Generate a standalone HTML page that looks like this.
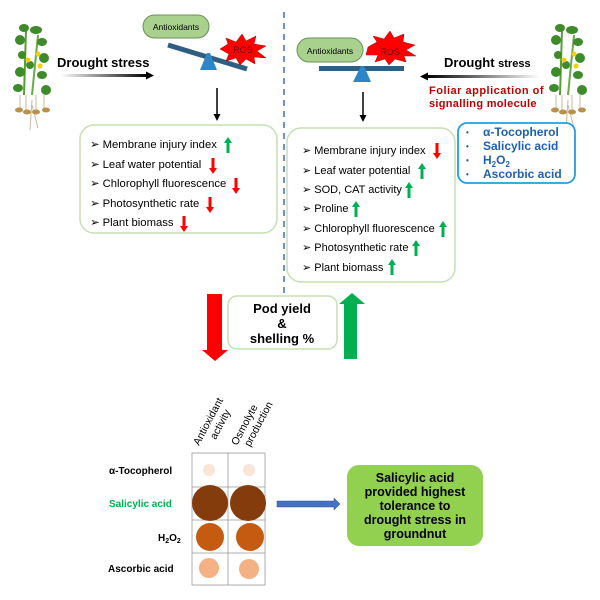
<!DOCTYPE html>
<html><head><meta charset="utf-8"><style>
html,body{margin:0;padding:0;background:#fff}
svg{display:block;font-family:"Liberation Sans",Arial,sans-serif}
</style></head><body>
<svg width="600" height="600" viewBox="0 0 600 600" xmlns="http://www.w3.org/2000/svg">
<defs>
<linearGradient id="gl" x1="0" x2="1"><stop offset="0" stop-color="#fff"/><stop offset="1" stop-color="#000"/></linearGradient>
<linearGradient id="gr" x1="1" x2="0"><stop offset="0" stop-color="#fff"/><stop offset="1" stop-color="#000"/></linearGradient>
<g id="plant">
<line x1="22" y1="95" x2="24" y2="30" stroke="#5a9a3a" stroke-width="2"/>
<line x1="30" y1="95" x2="36" y2="35" stroke="#6aa84f" stroke-width="2"/>
<g fill="#3f8a2a">
<ellipse cx="22" cy="28" rx="5" ry="4"/><ellipse cx="34" cy="30" rx="6" ry="4"/>
<ellipse cx="18" cy="40" rx="5" ry="5"/><ellipse cx="40" cy="42" rx="5" ry="4"/>
<ellipse cx="20" cy="55" rx="4" ry="4"/><ellipse cx="42" cy="58" rx="5" ry="5"/>
<ellipse cx="18" cy="72" rx="5" ry="5"/><ellipse cx="40" cy="75" rx="5" ry="4"/>
<ellipse cx="16" cy="88" rx="5" ry="4"/><ellipse cx="44" cy="90" rx="5" ry="5"/>
<ellipse cx="28" cy="65" rx="4" ry="4"/>
</g>
<circle cx="26" cy="60" r="2.5" fill="#f5d000"/><circle cx="36" cy="54" r="2.5" fill="#f5d000"/><circle cx="38" cy="66" r="2.5" fill="#f5d000"/>
<g stroke="#c8b89a" stroke-width="1"><line x1="18" y1="95" x2="18" y2="108"/><line x1="24" y1="95" x2="24" y2="110"/><line x1="34" y1="95" x2="34" y2="110"/><line x1="42" y1="95" x2="42" y2="108"/><line x1="30" y1="100" x2="28" y2="130"/><line x1="30" y1="105" x2="36" y2="128"/></g>
<g fill="#b8924a"><ellipse cx="17" cy="110" rx="4" ry="2.5"/><ellipse cx="25" cy="112" rx="4" ry="2.5"/><ellipse cx="34" cy="112" rx="4" ry="2.5"/><ellipse cx="44" cy="110" rx="4" ry="2.5"/></g>
</g>
</defs>

<use href="#plant" x="2" y="0"/>
<use href="#plant" x="538" y="0"/>

<!-- left top -->
<text x="57" y="67" font-size="13" font-weight="bold">Drought stress</text>
<rect x="60" y="74" width="88" height="3" fill="url(#gl)"/>
<polygon points="146,71.5 154,75.5 146,79.5" fill="#000"/>
<rect x="143" y="15" width="66" height="23" rx="11.5" fill="#a9d18e" stroke="#6d8f5a"/>
<text x="176" y="30" font-size="8.5" text-anchor="middle">Antioxidants</text>
<line x1="168" y1="45" x2="247" y2="69" stroke="#2f5f80" stroke-width="5"/>
<polygon points="207,53 210,53 217,70 200,70" fill="#2e86c8"/>
<polygon points="220,49 228,44 226,38 236,42 242,34 246,41 256,36 254,44 266,46 257,51 266,58 254,57 255,64 246,59 240,65 236,58 226,61 229,54" fill="#ff0000" stroke="#a00" stroke-width="0.5"/>
<text x="243" y="53" font-size="9" text-anchor="middle" fill="#600">ROS</text>
<line x1="217" y1="88" x2="217" y2="116" stroke="#000" stroke-width="1.5"/>
<polygon points="213.5,114 220.5,114 217,121" fill="#000"/>

<rect x="80" y="125" width="197" height="108" rx="14" fill="#fff" stroke="#c5e0b4" stroke-width="1.5"/>
<g font-size="11.3">
<text x="90" y="148">➢  Membrane injury index</text>
<text x="90" y="168">➢  Leaf water potential</text>
<text x="90" y="187">➢  Chlorophyll fluorescence</text>
<text x="90" y="207">➢  Photosynthetic rate</text>
<text x="90" y="226">➢  Plant biomass</text>
</g>
<polygon points="0,-8 -4,-2 -1.5,-2 -1.5,8 1.5,8 1.5,-2 4,-2" fill="#00b050" transform="translate(228,145)"/>
<g fill="#ff0000">
<polygon points="0,8 -4,2 -1.5,2 -1.5,-8 1.5,-8 1.5,2 4,2" transform="translate(213,166)"/>
<polygon points="0,8 -4,2 -1.5,2 -1.5,-8 1.5,-8 1.5,2 4,2" transform="translate(236,186)"/>
<polygon points="0,8 -4,2 -1.5,2 -1.5,-8 1.5,-8 1.5,2 4,2" transform="translate(210,205)"/>
<polygon points="0,8 -4,2 -1.5,2 -1.5,-8 1.5,-8 1.5,2 4,2" transform="translate(184,224)"/>
</g>

<!-- divider -->
<line x1="284" y1="12" x2="284" y2="300" stroke="#3b6fd0" stroke-width="1.5" stroke-dasharray="6,5"/>

<!-- right top -->
<rect x="297" y="38" width="66" height="24" rx="12" fill="#a9d18e" stroke="#6d8f5a"/>
<text x="330" y="54" font-size="8.5" text-anchor="middle">Antioxidants</text>
<polygon points="368,47 377,42 373,36 384,39 390,31 394,38 404,34 403,42 415,45 406,50 416,56 404,56 406,62 395,59 389,65 385,59 375,62 378,55 366,55" fill="#ff0000" stroke="#a00" stroke-width="0.5"/>
<text x="390" y="55" font-size="9" text-anchor="middle" fill="#600">ROS</text>
<rect x="319" y="66" width="85" height="5" fill="#2f5f80"/>
<polygon points="361,66 364,66 371,82 353,82" fill="#2e86c8"/>
<line x1="363" y1="92" x2="363" y2="117" stroke="#000" stroke-width="1.5"/>
<polygon points="359.5,115 366.5,115 363,122" fill="#000"/>

<text x="444" y="67" font-size="13" font-weight="bold">Drought <tspan font-size="11">stress</tspan></text>
<rect x="427" y="75" width="113" height="3" fill="url(#gr)"/>
<polygon points="428,72.5 420,76.5 428,80.5" fill="#000"/>
<text x="429" y="94" font-size="11" font-weight="bold" fill="#c00000" letter-spacing="0.5">Foliar application of</text>
<text x="429" y="107" font-size="11" font-weight="bold" fill="#c00000" letter-spacing="0.3">signalling molecule</text>

<rect x="458" y="123" width="117" height="60" rx="9" fill="#fff" stroke="#1ea0e0" stroke-width="1.8"/>
<g font-size="12" font-weight="bold" fill="#2060b0">
<text x="466" y="135" font-size="8">•</text><text x="483" y="136">α-Tocopherol</text>
<text x="466" y="149" font-size="8">•</text><text x="483" y="150">Salicylic acid</text>
<text x="466" y="163" font-size="8">•</text><text x="483" y="164">H<tspan font-size="8" dy="3">2</tspan><tspan dy="-3">O</tspan><tspan font-size="8" dy="3">2</tspan></text>
<text x="466" y="177" font-size="8">•</text><text x="483" y="178">Ascorbic acid</text>
</g>

<rect x="287" y="128" width="168" height="154" rx="14" fill="#fff" stroke="#c5e0b4" stroke-width="1.5"/>
<g font-size="11">
<text x="302" y="154">➢  Membrane injury index</text>
<text x="302" y="174">➢  Leaf water potential</text>
<text x="302" y="193">➢  SOD, CAT activity</text>
<text x="302" y="212">➢  Proline</text>
<text x="302" y="232">➢  Chlorophyll fluorescence</text>
<text x="302" y="251">➢  Photosynthetic rate</text>
<text x="302" y="271">➢  Plant biomass</text>
</g>
<polygon points="0,8 -4,2 -1.5,2 -1.5,-8 1.5,-8 1.5,2 4,2" fill="#ff0000" transform="translate(437,151)"/>
<g fill="#00b050">
<polygon points="0,-8 -4,-2 -1.5,-2 -1.5,8 1.5,8 1.5,-2 4,-2" transform="translate(422,171)"/>
<polygon points="0,-8 -4,-2 -1.5,-2 -1.5,8 1.5,8 1.5,-2 4,-2" transform="translate(409,190)"/>
<polygon points="0,-8 -4,-2 -1.5,-2 -1.5,8 1.5,8 1.5,-2 4,-2" transform="translate(356,209)"/>
<polygon points="0,-8 -4,-2 -1.5,-2 -1.5,8 1.5,8 1.5,-2 4,-2" transform="translate(443,229)"/>
<polygon points="0,-8 -4,-2 -1.5,-2 -1.5,8 1.5,8 1.5,-2 4,-2" transform="translate(416,248)"/>
<polygon points="0,-8 -4,-2 -1.5,-2 -1.5,8 1.5,8 1.5,-2 4,-2" transform="translate(392,267)"/>
</g>

<!-- middle -->
<polygon points="207,294 222,294 222,350 228,350 215,361 202,350 207,350" fill="#ff0000"/>
<polygon points="352,293 365,304 357,304 357,359 344,359 344,304 339,304" fill="#00b050"/>
<rect x="228" y="296" width="109" height="53" rx="9" fill="#fff" stroke="#c5e0b4" stroke-width="1.5"/>
<g font-size="13" font-weight="bold" text-anchor="middle">
<text x="282" y="313">Pod yield</text><text x="282" y="328">&amp;</text><text x="282" y="343">shelling %</text>
</g>

<!-- table -->
<g font-size="10.5" transform="translate(199,446) rotate(-62)"><text>Antioxidant</text><text x="13" y="12">activity</text></g>
<g font-size="10.5" transform="translate(237,446) rotate(-62)"><text>Osmolyte</text><text x="5" y="12">production</text></g>
<g stroke="#999" stroke-width="0.8" fill="none">
<rect x="192" y="453" width="73" height="132"/>
<line x1="228" y1="453" x2="228" y2="585"/>
<line x1="192" y1="487" x2="265" y2="487"/><line x1="192" y1="520" x2="265" y2="520"/><line x1="192" y1="553" x2="265" y2="553"/>
</g>
<circle cx="209" cy="470" r="6" fill="#fbe5d6"/><circle cx="249" cy="470" r="6" fill="#fbe5d6"/>
<circle cx="210" cy="503" r="18" fill="#843c0c"/><circle cx="248" cy="503" r="18" fill="#843c0c"/>
<circle cx="210" cy="537" r="14" fill="#c55a11"/><circle cx="250" cy="537" r="14" fill="#c55a11"/>
<circle cx="209" cy="568" r="10" fill="#f4b183"/><circle cx="249" cy="569" r="10" fill="#f4b183"/>
<g font-size="10" font-weight="bold">
<text x="109" y="474">α-Tocopherol</text>
<text x="109" y="507" fill="#00b050">Salicylic acid</text>
<text x="158" y="541">H<tspan font-size="7" dy="2">2</tspan><tspan dy="-2">O</tspan><tspan font-size="7" dy="2">2</tspan></text>
<text x="108" y="572">Ascorbic acid</text>
</g>
<polygon points="277,501 334,501 334,498 340,504 334,510 334,507 277,507" fill="#4472c4" stroke="#2f528f" stroke-width="0.5"/>
<rect x="347" y="465" width="136" height="81" rx="12" fill="#92d050"/>
<g font-size="12.5" font-weight="bold" text-anchor="middle">
<text x="415" y="482">Salicylic acid</text><text x="415" y="496">provided highest</text><text x="415" y="510">tolerance to</text><text x="415" y="524">drought stress in</text><text x="415" y="538">groundnut</text>
</g>
</svg>
</body></html>
